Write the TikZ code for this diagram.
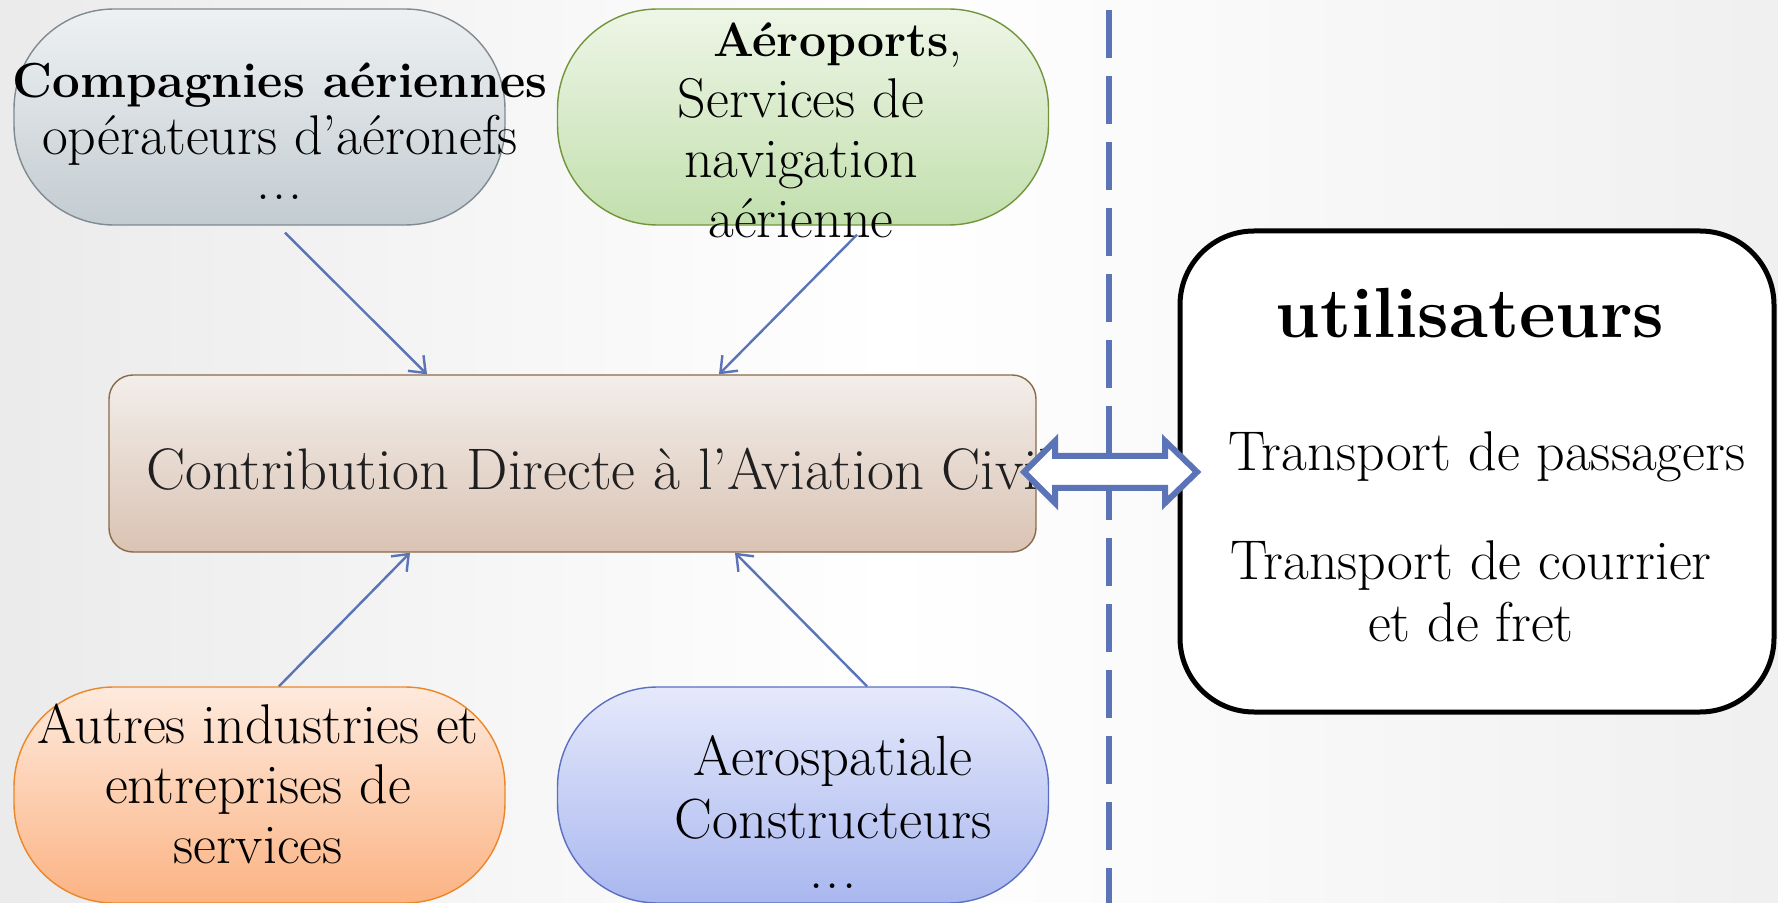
\documentclass[tikz,border=0pt]{standalone}
\usepackage{tikz}
\usetikzlibrary{positioning, calc, shapes.geometric, shapes.misc, arrows.meta}

\definecolor{linkblue}{HTML}{5B74B8}
\definecolor{grayline}{HTML}{7F8A91}
\definecolor{graytop}{HTML}{EEF1F3}
\definecolor{graybot}{HTML}{C3CCD1}
\definecolor{greenline}{HTML}{72943A}
\definecolor{greentop}{HTML}{EEF6E7}
\definecolor{greenbot}{HTML}{C2DFAD}
\definecolor{brownline}{HTML}{8B6A48}
\definecolor{browntop}{HTML}{F3EEEA}
\definecolor{brownbot}{HTML}{DAC3B4}
\definecolor{orangeline}{HTML}{EC8628}
\definecolor{orangetop}{HTML}{FEEADD}
\definecolor{orangebot}{HTML}{FBB383}
\definecolor{blueline}{HTML}{5B6FC2}
\definecolor{bluetop}{HTML}{E5E9FB}
\definecolor{bluebot}{HTML}{A9B7EF}

\newcommand{\Etc}{.\kern1pt.\kern1pt.}

\tikzstyle{Arrow} = [
draw=linkblue, line width=1.2pt,
-{Straight Barb[length=7pt, width=11pt]}]
\tikzstyle{Bubble} = [line width=0.7pt, rounded corners=50pt,
minimum width=245.5pt, minimum height=108pt, inner sep=0pt]
\tikzstyle{Label} = [align=center, inner sep=0pt, anchor=base]
\tikzstyle{Twoway} = [draw=linkblue, line width=3pt, fill=white]

\begin{document}
\begin{tikzpicture}[x=0.5pt, y=-0.5pt]
    \useasboundingbox (0,0) rectangle (1778,903);
    \shade[left color=black!8, right color=black!6, middle color=white]
        (0,0) rectangle (1778,903);

    \node[Bubble, draw=grayline, top color=graytop, bottom color=graybot] (1) at (259.5,117) {};
    \node[Bubble, draw=greenline, top color=greentop, bottom color=greenbot] (2) at (803,117) {};
    \node[Bubble, draw=orangeline, top color=orangetop, bottom color=orangebot] (3) at (259.5,795) {};
    \node[Bubble, draw=blueline, top color=bluetop, bottom color=bluebot] (4) at (803,795) {};
    \node[draw=brownline, line width=0.7pt, rounded corners=12pt, top color=browntop,
        bottom color=brownbot, minimum width=463.5pt, minimum height=88.5pt] (5) at (572.5,463.5) {};

    \node[Label, font=\fontsize{28}{28.5}\selectfont] (7) at (280,200)
        {{\fontsize{24.6}{28.5}\selectfont\bfseries Compagnies aériennes}\\
        opérateurs d’aéronefs\\[-6pt] \Etc};
    \node[Label, font=\fontsize{28}{30.2}\selectfont] (8) at (801,238)
        {\hspace*{37pt}{\fontsize{24}{30.2}\selectfont\bfseries Aéroports},\\
        Services de\\ navigation\\ aérienne};
    \node[Label, font=\fontsize{28}{30}\selectfont] (9) at (258,863)
        {Autres industries et\\ entreprises de\\ services};
    \node[Label, font=\fontsize{28.3}{31.5}\selectfont] (10) at (833,888)
        {Aerospatiale\\ Constructeurs\\[-6.5pt] \Etc};
    \node[anchor=base west, inner sep=0pt, font=\fontsize{29.3}{30}\selectfont,
        text=black!88] (11) at (146,490) {Contribution Directe à l’Aviation Civile};

    \draw[Arrow] ([xshift=12.75pt, yshift=-3.5pt]1.south) -- ([xshift=-72.75pt]5.north);
    \draw[Arrow] ([xshift=27pt, yshift=-4.5pt]2.south) -- ([xshift=73.25pt]5.north);
    \draw[Arrow] ([xshift=9.75pt]3.north) -- ([xshift=-81.25pt]5.south);
    \draw[Arrow] ([xshift=32pt]4.north) -- ([xshift=81.25pt]5.south);

    \draw[linkblue, line width=3pt, dash pattern=on 24pt off 9pt] (1109,10) -- (1109,903);

    \node[draw, line width=2.5pt, rounded corners=37pt, fill=white, minimum width=297pt,
        minimum height=240.5pt] (6) at (1477,471.5) {};
    \node[Label, font=\fontsize{35.5}{40}\selectfont\bfseries] (12) at (1470,338) {utilisateurs};
    \node[Label, font=\fontsize{28}{31}\selectfont] (13) at (1487,471) {Transport de passagers};
    \node[Label, font=\fontsize{28}{31}\selectfont] (14) at (1471,641)
        {Transport de courrier\\ et de fret};

    \coordinate (L) at (1024,472);
    \coordinate (R) at (1197,472);
    \draw[Twoway] (L) -- (1055,441) -- (1055,456) -- (1165,456) -- (1165,441) -- (R)
        -- (1165,503) -- (1165,488) -- (1055,488) -- (1055,503) -- cycle;
\end{tikzpicture}
\end{document}
